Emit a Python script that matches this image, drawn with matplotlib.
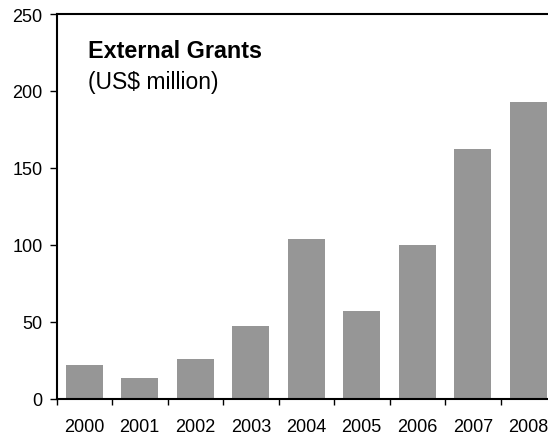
import numpy as np
import matplotlib.pyplot as plt

plt.rcParams['font.family'] = ['Liberation Sans', 'DejaVu Sans']

years = ['2000', '2001', '2002', '2003', '2004', '2005', '2006', '2007', '2008']
grants = [22, 13.6, 26, 47.3, 104, 57, 100, 162.6, 193]

fig = plt.figure(figsize=(5.48, 4.39), dpi=100)
# axes runs a little past the right edge, the 2008 bar is cut off as in the source
ax = fig.add_axes([56.5/548, 1-400/439, 9*55.5/548, 385/439])

x = np.arange(len(years))
ax.bar(x, grants, width=0.67, color='#969696', zorder=2)
ax.set_xlim(-0.5, len(years)-0.5)
ax.set_ylim(0, 250)
ax.set_yticks([0, 50, 100, 150, 200, 250])
ax.set_xticks(np.arange(len(years)+1)-0.5)
ax.set_xticklabels([])
ax.set_xticks(x, minor=True)
ax.set_xticklabels(years, minor=True)
ax.tick_params(axis='x', which='minor', length=0, pad=13.5, labelsize=13)
ax.tick_params(axis='x', which='major', direction='out', length=4, width=1)
ax.tick_params(axis='y', direction='out', length=5, width=1, labelsize=13, pad=5)

for s in ['left', 'bottom', 'top']:
    ax.spines[s].set_linewidth(1.5)
ax.spines['right'].set_visible(False)

ax.text(88/548, 1-58/439, 'External Grants', transform=fig.transFigure,
        fontsize=16.8, fontweight='bold', va='baseline', ha='left')
ax.text(88/548, 1-89/439, '(US$ million)', transform=fig.transFigure,
        fontsize=16.5, va='baseline', ha='left')

fig.savefig('out.png', dpi=100)
